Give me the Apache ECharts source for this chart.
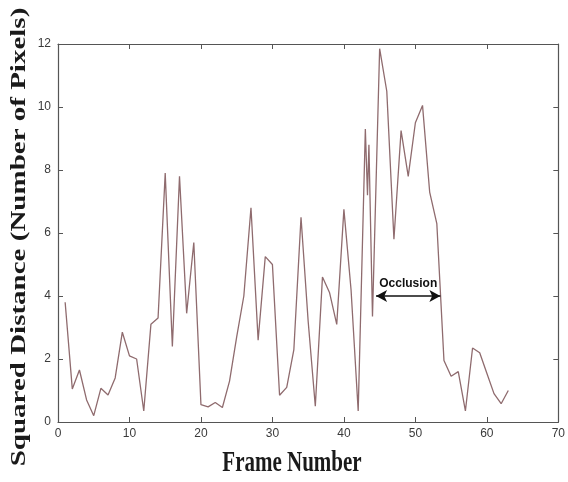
<!DOCTYPE html>
<html>
    <head>
        <meta charset="utf-8">
        <title>Squared Distance</title>
        <script src="https://cdn.jsdelivr.net/npm/echarts@6/dist/echarts.min.js"></script>
        <style>
            html, body { margin: 0; padding: 0; background: #fff; }
            #chart1 { width: 568px; height: 482px; }
        </style>
    </head>
    <body>
        <div id="chart1"></div>
        <script type="text/javascript">
            // 数据
            var frames = [1, 2, 3, 4, 5, 6, 7, 8, 9, 10, 11, 12, 13, 14, 15, 16, 17, 18, 19, 20,
                21, 22, 23, 24, 25, 26, 27, 28, 29, 30, 31, 32, 33, 34, 35, 36, 37, 38, 39, 40,
                41, 42, 43, 43.3, 43.5, 44, 45, 46, 47, 48, 49, 50, 51, 52, 53, 54, 55, 56, 57, 58,
                59, 60, 61, 62, 63];
            var distances = [3.8, 1.05, 1.65, 0.7, 0.2, 1.07, 0.86, 1.4, 2.85, 2.1, 2.0, 0.35, 3.1, 3.3, 7.9, 2.4, 7.8, 3.45, 5.7, 0.55,
                0.48, 0.62, 0.46, 1.3, 2.7, 4.0, 6.8, 2.6, 5.25, 5.0, 0.85, 1.1, 2.3, 6.5, 3.2, 0.5, 4.6, 4.1, 3.1, 6.75,
                4.2, 0.35, 9.3, 7.2, 8.8, 3.35, 11.85, 10.5, 5.8, 9.25, 7.8, 9.5, 10.05, 7.3, 6.3, 1.95, 1.45, 1.6, 0.35, 2.35,
                2.2, 1.55, 0.9, 0.58, 1.0];
            var occlusionRange = [44.5, 53.5];
            var occlusionLevel = 4.0;

            var myChart1 = echarts.init(document.getElementById('chart1'));

            var points = frames.map(function (f, i) { return [f, distances[i]]; });

            var axisGray = '#555555';
            var tickFont = { color: '#3a3a3a', fontSize: 12, fontFamily: 'Liberation Sans' };
            var boxLine = { show: true, onZero: false, lineStyle: { color: axisGray, width: 1.2 } };
            var boxTick = { show: true, inside: true, length: 5, lineStyle: { color: axisGray } };

            myChart1.setOption({
                backgroundColor: '#ffffff',
                animation: false,
                grid: { left: 58, right: 8, top: 44, bottom: 60, containLabel: false },
                xAxis: [
                    {
                        type: 'value', min: 0, max: 70, interval: 10, position: 'bottom',
                        axisLine: boxLine, axisTick: boxTick,
                        axisLabel: Object.assign({ margin: 6 }, tickFont),
                        splitLine: { show: false }
                    },
                    {
                        type: 'value', min: 0, max: 70, interval: 10, position: 'top',
                        axisLine: boxLine, axisTick: boxTick,
                        axisLabel: { show: false },
                        splitLine: { show: false }
                    }
                ],
                yAxis: [
                    {
                        type: 'value', min: 0, max: 12, interval: 2, position: 'left',
                        axisLine: boxLine, axisTick: boxTick,
                        axisLabel: Object.assign({ margin: 7 }, tickFont),
                        splitLine: { show: false }
                    },
                    {
                        type: 'value', min: 0, max: 12, interval: 2, position: 'right',
                        axisLine: boxLine, axisTick: boxTick,
                        axisLabel: { show: false },
                        splitLine: { show: false }
                    }
                ],
                series: [
                    {
                        name: 'distance',
                        type: 'line',
                        xAxisIndex: 0,
                        yAxisIndex: 0,
                        data: points,
                        symbol: 'none',
                        lineStyle: { color: '#8f6b6e', width: 1.3 },
                        markLine: {
                            silent: true,
                            symbol: ['arrow', 'arrow'],
                            symbolSize: [9, 11],
                            lineStyle: { color: '#111', width: 1.5, type: 'solid' },
                            label: {
                                show: true,
                                position: 'middle',
                                formatter: 'Occlusion',
                                color: '#111',
                                fontSize: 12,
                                fontWeight: 'bold',
                                fontFamily: 'Liberation Sans',
                                distance: 6
                            },
                            data: [[
                                { coord: [occlusionRange[0], occlusionLevel] },
                                { coord: [occlusionRange[1], occlusionLevel] }
                            ]]
                        }
                    }
                ],
                graphic: [
                    {
                        // y轴标题 (the picture is stretched vertically)
                        type: 'text',
                        x: 20, y: 237,
                        rotation: Math.PI / 2,
                        scaleX: 1.45,
                        style: {
                            text: 'Squared Distance (Number of Pixels)',
                            font: 'bold 20px "Liberation Serif"',
                            fill: '#1a1a1a',
                            align: 'center',
                            verticalAlign: 'middle'
                        }
                    },
                    {
                        type: 'text',
                        x: 292, y: 463,
                        scaleY: 1.4,
                        style: {
                            text: 'Frame Number',
                            font: 'bold 21px "Liberation Serif"',
                            fill: '#1a1a1a',
                            align: 'center',
                            verticalAlign: 'middle'
                        }
                    }
                ]
            });
        </script>
    </body>
</html>
